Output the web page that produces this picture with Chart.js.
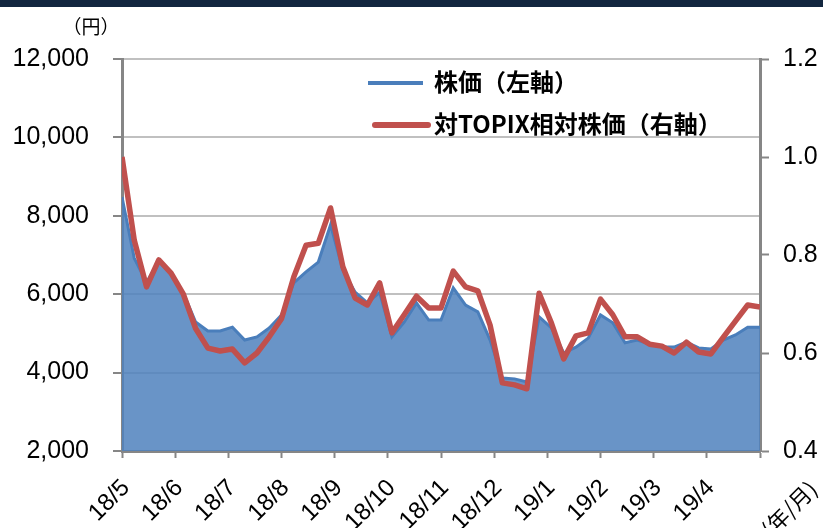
<!DOCTYPE html>
<html lang="ja">
<head>
  <meta charset="UTF-8" />
  <title>株価と対TOPIX相対株価</title>
  <script src="https://cdn.jsdelivr.net/npm/chart.js"></script>
  <style>
    html, body {
      margin: 0;
      padding: 0;
      background: #fff;
    }
    .wrap {
      width: 823px;
      height: 528px;
      position: relative;
    }
  </style>
</head>
<body>
  <div class="wrap">
    <canvas id="stockChart"></canvas>
  </div>

  <script>
    // 月ラベル（目盛りは月初）
    const monthLabels = ['18/5', '18/6', '18/7', '18/8', '18/9', '18/10', '18/11', '18/12', '19/1', '19/2', '19/3', '19/4'];

    // 週次の株価（円, 左軸）
    const priceData = [
      8480, 6920, 6300, 6850, 6500, 6030, 5290, 5060, 5060, 5160,
      4830, 4910, 5140, 5470, 6290, 6570, 6820, 7770, 6620, 6050,
      5780, 6050, 4910, 5290, 5780, 5340, 5340, 6160, 5720, 5550,
      4830, 3860, 3840, 3760, 5420, 5140, 4500, 4650, 4880, 5470,
      5270, 4760, 4830, 4730, 4650, 4650, 4780, 4630, 4600, 4830,
      4960, 5160, 5160
    ];

    // 週次の対TOPIX相対株価（右軸）
    const relData = [
      1.00, 0.83, 0.735, 0.79, 0.763, 0.72, 0.65, 0.61, 0.604, 0.608,
      0.58, 0.60, 0.633, 0.67, 0.755, 0.82, 0.824, 0.896, 0.776, 0.712,
      0.698, 0.743, 0.641, 0.678, 0.716, 0.692, 0.692, 0.767, 0.735, 0.727,
      0.657, 0.539, 0.535, 0.527, 0.722, 0.661, 0.588, 0.635, 0.641, 0.71,
      0.678, 0.633, 0.633, 0.618, 0.614, 0.60, 0.622, 0.602, 0.598, 0.632,
      0.665, 0.698, 0.694
    ];

    const leftTicks = [2000, 4000, 6000, 8000, 10000, 12000];
    const rightTicks = [0.4, 0.6, 0.8, 1.0, 1.2];

    const lastWeek = priceData.length - 1;
    const weeksPerMonth = lastWeek / monthLabels.length;

    const axisGrey = 'rgb(134,134,134)';
    const tickFont = { family: '"Liberation Sans", Arial, sans-serif', size: 25 };

    // 凡例・単位・上部バーを描く
    const extras = {
      id: 'extras',
      beforeDraw(chart) {
        const c = chart.ctx;
        c.save();
        c.fillStyle = '#12263f';
        c.fillRect(0, 0, chart.width, 7);
        c.restore();
      },
      afterDraw(chart) {
        const c = chart.ctx;
        c.save();
        c.fillStyle = '#000';
        c.font = '19px "Noto Sans CJK JP", sans-serif';
        c.textAlign = 'center';
        c.textBaseline = 'middle';
        c.fillText('（円）', 91, 27);

        // 年/月
        c.save();
        c.translate(813, 485);
        c.rotate(-Math.PI / 4);
        c.font = '22px "Noto Sans CJK JP", sans-serif';
        c.textAlign = 'right';
        c.fillText('(年/月)', 0, 0);
        c.restore();

        // 凡例
        const rows = [
          { ds: chart.data.datasets[0], y: 83, x0: 368, x1: 423, w: 4, cap: 'butt' },
          { ds: chart.data.datasets[1], y: 125, x0: 375, x1: 428, w: 6, cap: 'round' }
        ];
        c.font = 'bold 24px "Noto Sans CJK JP", sans-serif';
        c.textAlign = 'left';
        rows.forEach(r => {
          c.beginPath();
          c.strokeStyle = r.ds.borderColor;
          c.lineWidth = r.w;
          c.lineCap = r.cap;
          c.moveTo(r.x0, r.y);
          c.lineTo(r.x1, r.y);
          c.stroke();
          c.fillStyle = '#000';
          c.fillText(r.ds.label, 434, r.y - 1);
        });
        c.restore();
      }
    };

    const ctx = document.getElementById('stockChart').getContext('2d');
    new Chart(ctx, {
      type: 'line',
      data: {
        datasets: [{
          label: '株価（左軸）',
          data: priceData.map((v, i) => ({ x: i, y: v })),
          yAxisID: 'y',
          borderColor: 'rgb(74,126,187)',
          backgroundColor: 'rgba(79,129,189,0.85)',
          borderWidth: 3,
          fill: 'start',
          pointRadius: 0,
          tension: 0,
          order: 1
        }, {
          label: '対TOPIX相対株価（右軸）',
          data: relData.map((v, i) => ({ x: i, y: v })),
          yAxisID: 'y1',
          borderColor: 'rgb(192,80,77)',
          borderWidth: 5.5,
          fill: false,
          pointRadius: 0,
          tension: 0,
          borderJoinStyle: 'round',
          order: 0
        }]
      },
      options: {
        responsive: true,
        maintainAspectRatio: false,
        animation: false,
        layout: { padding: { top: 59, left: 0, right: 0, bottom: 0 } },
        plugins: {
          legend: { display: false },
          tooltip: { enabled: false }
        },
        scales: {
          x: {
            type: 'linear',
            min: 0,
            max: lastWeek,
            afterBuildTicks(scale) {
              const t = [];
              for (let m = 0; m <= monthLabels.length; m++) t.push({ value: m * weeksPerMonth });
              scale.ticks = t;
            },
            afterFit(scale) { scale.height = 77; },
            ticks: {
              autoSkip: false,
              minRotation: 45,
              maxRotation: 45,
              padding: 16,
              labelOffset: 4,
              color: '#000',
              font: { family: '"Liberation Sans", Arial, sans-serif', size: 24 },
              callback: (v, i) => monthLabels[i] || ''
            },
            grid: {
              drawOnChartArea: false,
              tickLength: 7,
              tickColor: axisGrey,
              tickWidth: 2
            },
            border: { color: axisGrey, width: 3 }
          },
          y: {
            position: 'left',
            min: leftTicks[0],
            max: leftTicks[leftTicks.length - 1],
            afterBuildTicks(scale) { scale.ticks = leftTicks.map(v => ({ value: v })); },
            afterFit(scale) { scale.width = 122; },
            ticks: {
              padding: 24,
              color: '#000',
              font: tickFont,
              callback: v => v.toLocaleString('en-US')
            },
            grid: {
              color: 'rgb(192,192,192)',
              lineWidth: 2,
              tickLength: 9,
              tickColor: axisGrey,
              tickWidth: 2
            },
            border: { color: axisGrey, width: 3 }
          },
          y1: {
            position: 'right',
            min: rightTicks[0],
            max: rightTicks[rightTicks.length - 1],
            afterBuildTicks(scale) { scale.ticks = rightTicks.map(v => ({ value: v })); },
            afterFit(scale) { scale.width = 63; },
            ticks: {
              padding: 14,
              color: '#000',
              font: tickFont,
              callback: v => v.toFixed(1)
            },
            grid: {
              drawOnChartArea: false,
              tickLength: 9,
              tickColor: axisGrey,
              tickWidth: 2
            },
            border: { color: axisGrey, width: 3 }
          }
        }
      },
      plugins: [extras]
    });
  </script>
</body>
</html>
